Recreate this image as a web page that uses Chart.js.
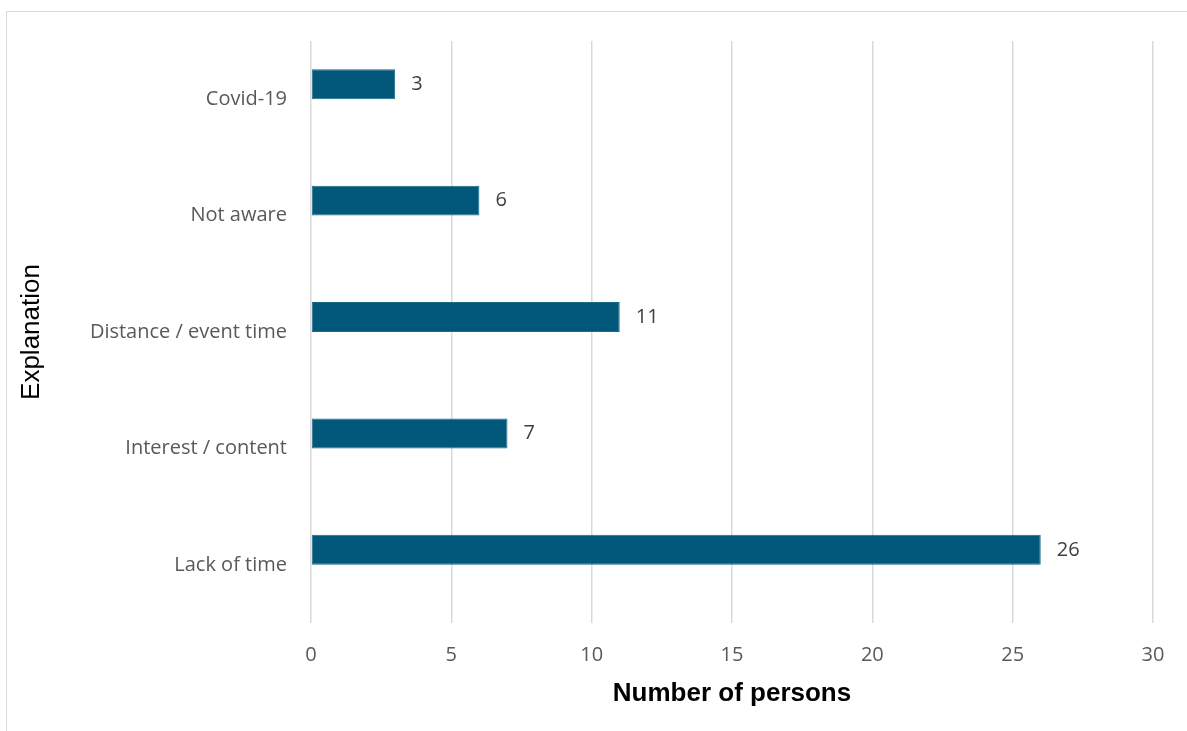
<!DOCTYPE html>
<html>
<head>
<meta charset="utf-8">
<script src="https://cdn.jsdelivr.net/npm/chart.js@4/dist/chart.umd.min.js"></script>
<style>
  html, body { margin: 0; padding: 0; background: #fff; overflow: hidden; }
  #wrap { position: relative; width: 1187px; height: 731px; }
  #frame { position: absolute; left: 6px; top: 11px; width: 1200px; height: 740px; border: 1px solid #d9d9d9; box-sizing: border-box; }
  canvas { position: absolute; left: 0; top: 0; }
</style>
</head>
<body>
<div id="wrap">
  <div id="frame"></div>
  <canvas id="chart" width="1187" height="731"></canvas>
</div>
<script>
const reasons = ["Covid-19", "Not aware", "Distance / event time", "Interest / content", "Lack of time"];
const persons = [3, 6, 11, 7, 26];
// second, empty series keeps the bars in the upper half of each category slot
const emptySeries = [null, null, null, null, null];
const xTicks = [0, 5, 10, 15, 20, 25, 30];

const tickFont = { family: "'Open Sans', sans-serif", size: 20 };

// value labels just past the end of each bar
const valueLabels = {
  id: "valueLabels",
  afterDatasetsDraw(chart) {
    const ctx = chart.ctx;
    const meta = chart.getDatasetMeta(0);
    ctx.save();
    ctx.font = "20px 'Open Sans', sans-serif";
    ctx.fillStyle = "#404040";
    ctx.textAlign = "left";
    ctx.textBaseline = "middle";
    meta.data.forEach((bar, i) => {
      ctx.fillText(String(persons[i]), bar.x + 16, bar.y);
    });
    ctx.restore();
  }
};

new Chart(document.getElementById("chart").getContext("2d"), {
  type: "bar",
  data: {
    labels: reasons,
    datasets: [
      {
        data: persons,
        backgroundColor: "#02587a",
        borderColor: "#1a6a88",
        borderWidth: 1,
        borderSkipped: false,
        barPercentage: 1,
        categoryPercentage: 0.515,
      },
      {
        data: emptySeries,
        backgroundColor: "transparent",
        barPercentage: 1,
        categoryPercentage: 0.515,
      },
    ],
  },
  options: {
    indexAxis: "y",
    responsive: false,
    animation: false,
    layout: { padding: { top: 41, right: 34, left: 14, bottom: 18 } },
    plugins: {
      legend: { display: false },
      tooltip: { enabled: false },
    },
    scales: {
      x: {
        min: 0,
        max: 30,
        afterBuildTicks(scale) {
          scale.ticks = xTicks.map(v => ({ value: v }));
        },
        afterFit(scale) { scale.height = 90; },
        grid: { color: "#d9d9d9", lineWidth: 1.5, drawTicks: false },
        border: { display: false },
        ticks: { font: tickFont, color: "#595959", padding: 20 },
        title: {
          display: true,
          text: "Number of persons",
          color: "#000",
          font: { family: "'Liberation Sans', Arial, sans-serif", size: 26, weight: "bold" },
          padding: { top: 8 },
        },
      },
      y: {
        afterFit(scale) { scale.width = 297; },
        grid: { display: false },
        border: { display: false },
        ticks: { font: tickFont, color: "#595959", padding: 16 },
        title: {
          display: true,
          text: "Explanation",
          color: "#000",
          font: { family: "'Liberation Sans', Arial, sans-serif", size: 26 },
          padding: { top: 2 },
        },
      },
    },
  },
  plugins: [valueLabels],
});
</script>
</body>
</html>
